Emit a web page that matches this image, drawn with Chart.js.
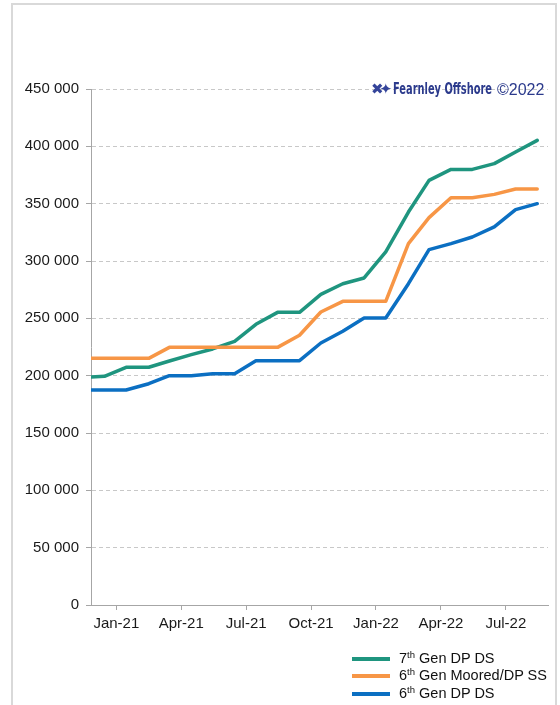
<!DOCTYPE html>
<html>
<head>
<meta charset="utf-8">
<script src="https://cdn.jsdelivr.net/npm/chart.js@4/dist/chart.umd.min.js"></script>
<style>
  html, body { margin: 0; padding: 0; background: #ffffff; }
  #wrap { position: relative; width: 560px; height: 705px; overflow: hidden; font-family: "Liberation Sans", Arial, sans-serif; }
  #frame { position: absolute; left: 11px; top: 3px; width: 546px; height: 720px; border: 2px solid #d9d9d9; box-sizing: border-box; }
  canvas { position: absolute; left: 0; top: 0; }
  #mark { position: absolute; left: 371px; top: 80px; height: 20px; white-space: nowrap; color: #2b3a8c; }
  #mark .ico { position: absolute; left: 0; top: 0px; font-size: 15px; font-weight: bold; font-family: "DejaVu Sans", sans-serif; letter-spacing: -4px; color: #34449a; }
  #mark .brand { position: absolute; left: 22px; top: -1px; font-family: "DejaVu Sans Condensed", "DejaVu Sans", sans-serif; font-weight: bold; font-size: 16px; transform-origin: 0 0; }
  #mark .copy { position: absolute; left: 126px; top: 1px; font-family: "Liberation Sans", Arial, sans-serif; font-size: 16px; color: #2b3a8c; }
  #legend { position: absolute; left: 352px; top: 649.5px; font-size: 14.5px; color: #111; }
  #legend .row { position: relative; height: 17.5px; line-height: 17.5px; white-space: nowrap; }
  #legend .sw { position: absolute; left: 0; top: 7px; width: 38px; height: 4px; }
  #legend .tx { position: absolute; left: 47px; top: 0; }
  #legend sup { font-size: 9.5px; vertical-align: 0; position: relative; top: -5px; }
</style>
</head>
<body>
<div id="wrap">
  <div id="frame"></div>
  <canvas id="c" width="560" height="705"></canvas>
  <div id="mark"><span class="ico">✖✦</span><span class="brand" id="brand">Fearnley Offshore</span><span class="copy">©2022</span></div>
  <div id="legend"></div>
</div>
<script>
// ---- Data ----
const dates = [
  '2020-11-26','2020-12-15',
  '2021-01-15','2021-02-15','2021-03-15','2021-04-15','2021-05-15','2021-06-15',
  '2021-07-15','2021-08-15','2021-09-15','2021-10-15','2021-11-15','2021-12-15',
  '2022-01-15','2022-02-15','2022-03-15','2022-04-15','2022-05-15','2022-06-15',
  '2022-07-15','2022-08-15'
];
const gen7DPDS = [
  198800, 199400, 207300, 207300, 212800, 218300, 223300, 229900,
  244800, 255200, 255200, 270900, 280200, 285200, 307900, 342700,
  370300, 379900, 379900, 384900, 395100, 405200
];
const gen6MooredDPSS = [
  215100, 215100, 215100, 215100, 224700, 224700, 224700, 224700,
  224700, 224700, 235200, 255500, 264800, 264800, 264800, 315100,
  337800, 355200, 355200, 358100, 362800, 362800
];
const gen6DPDS = [
  187500, 187500, 187500, 193000, 200000, 200000, 201700, 201700,
  213100, 213100, 213100, 228500, 238700, 250300, 250300, 280200,
  309900, 315100, 320900, 329700, 344800, 350000
];
const seriesNames = ['7th Gen DP DS', '6th Gen Moored/DP SS', '6th Gen DP DS'];
const tickLabels = ['Jan-21','Apr-21','Jul-21','Oct-21','Jan-22','Apr-22','Jul-22'];
const tickDates  = ['2021-01-01','2021-04-01','2021-07-01','2021-10-01','2022-01-01','2022-04-01','2022-07-01'];
const yTicks = [0, 50000, 100000, 150000, 200000, 250000, 300000, 350000, 400000, 450000];

// ---- helpers ----
function monthIndex(s) {
  const [y, m, d] = s.split('-').map(Number);
  const dim = new Date(y, m, 0).getDate();
  return (y - 2021) * 12 + (m - 1) + (d - 1) / dim;
}
const xs = dates.map(monthIndex);
const tickPos = tickDates.map(monthIndex);
function pts(vals) { return vals.map((v, i) => ({ x: xs[i], y: v })); }
function fmt(v) { return String(v).replace(/\B(?=(\d{3})+(?!\d))/g, ' '); }

const colors = ['#1f957f', '#f79646', '#0b6fc2'];
const seriesData = [gen7DPDS, gen6MooredDPSS, gen6DPDS];

// watermark: fit brand text to its width in the reference
const brand = document.getElementById('brand');
const bw = brand.getBoundingClientRect().width;
if (bw > 0) brand.style.transform = 'scaleX(' + (99 / bw) + ')';

// legend (HTML, with superscripts)
const lg = document.getElementById('legend');
seriesNames.forEach((n, i) => {
  const row = document.createElement('div');
  row.className = 'row';
  const sw = document.createElement('span');
  sw.className = 'sw'; sw.style.background = colors[i];
  const tx = document.createElement('span');
  tx.className = 'tx';
  tx.innerHTML = n.replace(/^(\d)(th)/, '$1<sup>$2</sup>');
  row.appendChild(sw); row.appendChild(tx);
  lg.appendChild(row);
});

Chart.defaults.font.family = '"Liberation Sans", Arial, sans-serif';

new Chart(document.getElementById('c'), {
  type: 'line',
  data: {
    datasets: seriesData.map((vals, i) => ({
      label: seriesNames[i],
      data: pts(vals),
      borderColor: colors[i],
      backgroundColor: colors[i],
      borderWidth: 3.5,
      pointRadius: 0,
      tension: 0,
      borderJoinStyle: 'round',
      borderCapStyle: 'round',
      order: i === 0 ? 3 : (i === 1 ? 2 : 1)
    }))
  },
  options: {
    responsive: false,
    devicePixelRatio: 1,
    animation: false,
    layout: { padding: { left: 0, top: 89, right: 12, bottom: 0 } },
    plugins: { legend: { display: false }, tooltip: { enabled: false } },
    scales: {
      x: {
        type: 'linear',
        min: -1.17,
        max: 19.95,
        afterFit: s => { s.height = 100; },
        afterBuildTicks: s => { s.ticks = tickPos.map(v => ({ value: v })); },
        ticks: {
          autoSkip: false,
          maxRotation: 0,
          padding: 5,
          color: '#1a1a1a',
          font: { size: 15 },
          callback: (v, i) => tickLabels[i]
        },
        grid: {
          drawOnChartArea: false,
          drawTicks: true,
          tickLength: 5,
          tickColor: '#a6a6a6',
          tickWidth: 1
        },
        border: { display: true, color: '#a6a6a6', width: 1 }
      },
      y: {
        min: 0,
        max: 450000,
        afterFit: s => { s.width = 91; },
        afterBuildTicks: s => { s.ticks = yTicks.map(v => ({ value: v })); },
        ticks: {
          padding: 7,
          color: '#1a1a1a',
          font: { size: 15 },
          callback: v => fmt(v)
        },
        grid: {
          color: '#c8c8c8',
          lineWidth: 1,
          tickBorderDash: [],
          tickLength: 5,
          tickColor: '#a6a6a6',
          drawTicks: true
        },
        border: { display: true, color: '#a6a6a6', width: 1, dash: [4, 3] }
      }
    }
  }
});
</script>
</body>
</html>
